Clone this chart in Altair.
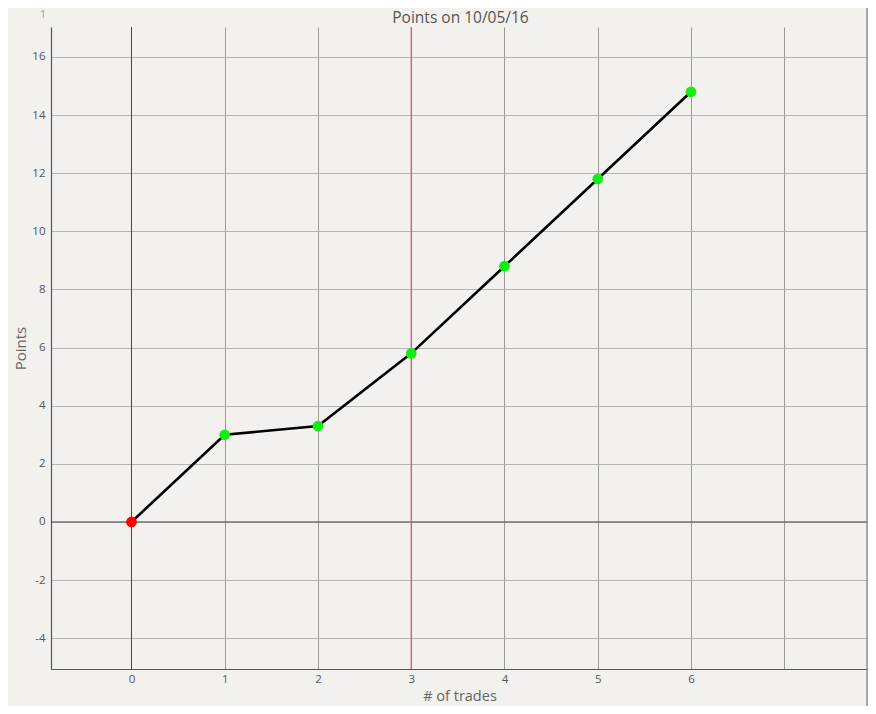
import altair as alt
import pandas as pd

# ---- data ----
trades = [0, 1, 2, 3, 4, 5, 6]
points = [0.0, 3.0, 3.3, 5.8, 8.8, 11.8, 14.8]
kind = ["zero" if p == 0 else "gain" for p in points]
x_ticks = [0, 1, 2, 3, 4, 5, 6, 7]
y_ticks = [-4, -2, 0, 2, 4, 6, 8, 10, 12, 14, 16]
marker_x = [3]
zero_x = [0]
zero_y = [0]
title_text = "Points on 10/05/16"

df = pd.DataFrame({"trades": trades, "points": points, "kind": kind})

W, H = 817, 642
FONT = "Open Sans"
xs = alt.Scale(domain=[-0.863, 7.898], nice=False, zero=False)
ys = alt.Scale(domain=[-5.06, 17.03], nice=False, zero=False)

x_axis = alt.Axis(
    values=x_ticks,
    labelExpr="datum.value <= 6 ? '' + datum.value : ''",
    title="# of trades",
    grid=True, gridColor="#9a9a9a", gridWidth=1,
    ticks=False, labelPadding=4, labelFontSize=11.5, labelColor="#555555",
    labelFont=FONT,
    domainColor="#555555", domainWidth=1.2,
    titleFontSize=14.5, titleColor="#666666", titleFont=FONT,
    titleFontWeight="normal", titlePadding=5,
)
y_axis = alt.Axis(
    values=y_ticks,
    labelExpr="'' + datum.value",
    title="Points",
    grid=True, gridColor="#b4b4b4", gridWidth=1,
    ticks=False, labelPadding=6, labelFontSize=11.5, labelColor="#555555",
    labelFont=FONT,
    domainColor="#555555", domainWidth=1.2,
    titleFontSize=15, titleColor="#666666", titleFont=FONT,
    titleFontWeight="normal", titleX=-38, titleBaseline="top", titleAlign="center",
)

base = alt.Chart(df)

axes_layer = base.mark_point(opacity=0).encode(
    x=alt.X("trades:Q", scale=xs, axis=x_axis),
    y=alt.Y("points:Q", scale=ys, axis=y_axis),
)

zero_v = alt.Chart(pd.DataFrame({"x": zero_x})).mark_rule(color="#4a4a4a", strokeWidth=1).encode(
    x=alt.X("x:Q", scale=xs)
)
zero_h = alt.Chart(pd.DataFrame({"y": zero_y})).mark_rule(color="#4a4a4a", strokeWidth=1).encode(
    y=alt.Y("y:Q", scale=ys)
)
marker = alt.Chart(pd.DataFrame({"x": marker_x})).mark_rule(color="#e2506a", strokeWidth=1.2).encode(
    x=alt.X("x:Q", scale=xs)
)

line = base.mark_line(color="#000000", strokeWidth=2.6).encode(
    x=alt.X("trades:Q", scale=xs),
    y=alt.Y("points:Q", scale=ys),
    order="trades:Q",
)
dots = base.mark_circle(size=115, opacity=1).encode(
    x=alt.X("trades:Q", scale=xs),
    y=alt.Y("points:Q", scale=ys),
    color=alt.Color("kind:N", scale=alt.Scale(domain=["zero", "gain"], range=["#ff0000", "#11ee11"]), legend=None),
)

frame = alt.Chart(df.head(1)).mark_rule(color="#8f8f8f", strokeWidth=1.5).encode(
    x=alt.value(W - 1), y=alt.value(-19), y2=alt.value(H + 37)
)
corner = alt.Chart(df.head(1)).mark_text(
    text="1", fontSize=10.5, color="#999999", font=FONT, baseline="top", align="center"
).encode(x=alt.value(-8), y=alt.value(-17))

title = alt.Chart(df.head(1)).mark_text(
    text=title_text, fontSize=15.5, color="#555555", font=FONT, baseline="middle", align="center"
).encode(x=alt.value(W / 2 + 1), y=alt.value(-9))

chart = alt.layer(
    axes_layer, zero_v, zero_h, marker, line, dots, frame, corner, title
).properties(
    width=W, height=H,
    autosize=alt.AutoSizeParams(type="none"),
    padding={"left": 43, "top": 19, "right": 0, "bottom": 37},
    background="#f2f1ed",
).configure_view(stroke=None)

chart.save("out.html", embed_options={"renderer": "svg", "actions": False})
